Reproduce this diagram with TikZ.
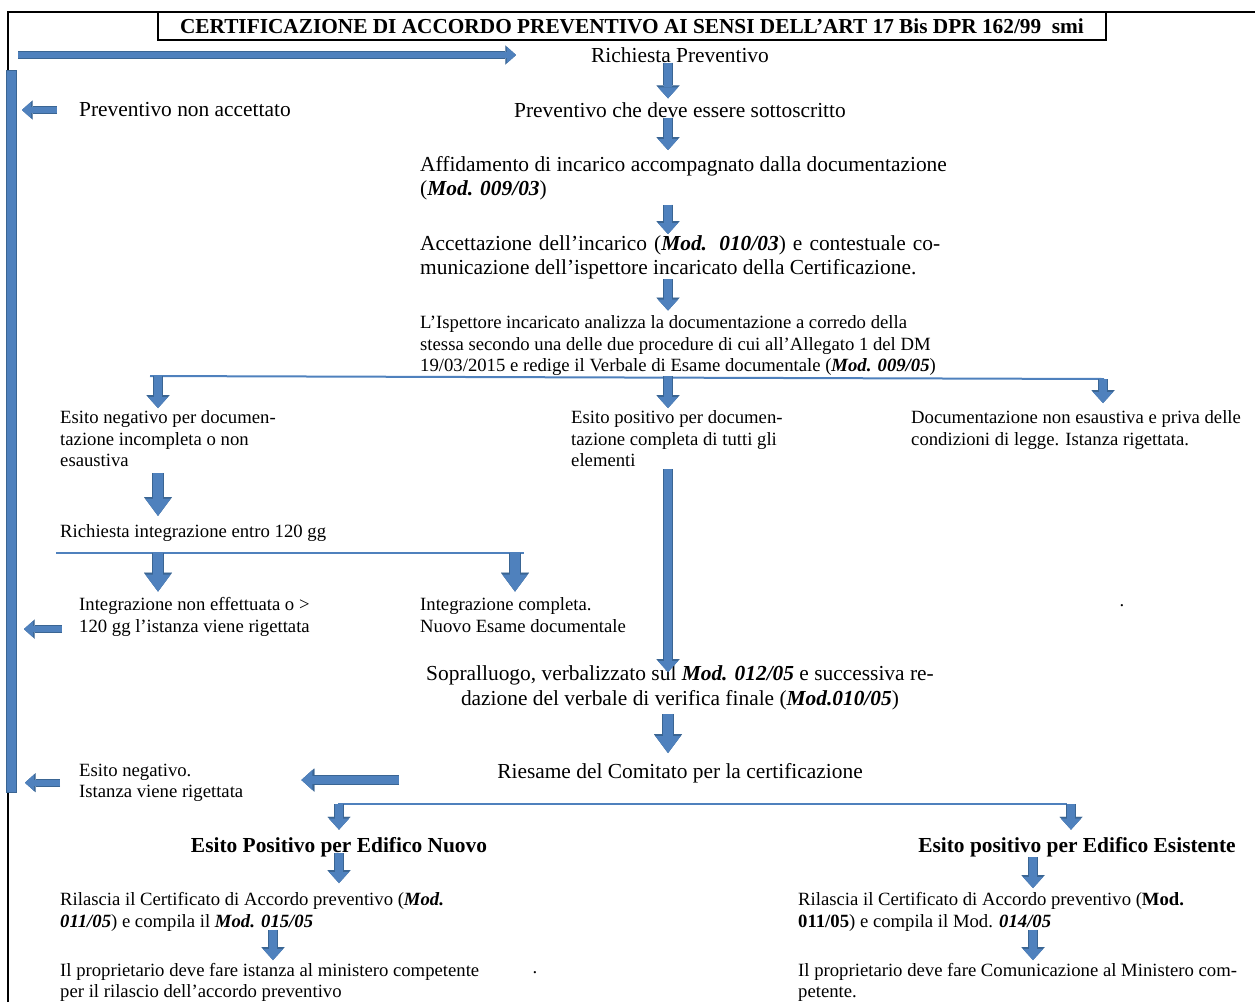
\documentclass[tikz,border=0pt]{standalone}
\usepackage{fontspec}
\setmainfont{Liberation Serif}
\usetikzlibrary{arrows.meta}
\definecolor{bfill}{HTML}{4F81BD}
\definecolor{bline}{HTML}{3A6593}
\newcommand\bim[1]{\textbf{\textit{#1}}}
\tikzset{
  big/.style={inner sep=0pt, font=\fontsize{21.4}{24.5}\selectfont},
  sml/.style={inner sep=0pt, font=\fontsize{18.7}{21.6}\selectfont, align=left, anchor=north west},
  arr/.style={draw=bfill, line width=8pt, -{Triangle[length=11pt,width=20pt,line width=0.01pt]},
    preaction={draw=bline, line width=9.6pt, -{Triangle[length=12.8pt,width=23pt,line width=0.01pt]}}},
  bigarr/.style={draw=bfill, line width=10pt, -{Triangle[length=17pt,width=25pt,line width=0.01pt]},
    preaction={draw=bline, line width=11.6pt, -{Triangle[length=18.8pt,width=28pt,line width=0.01pt]}}},
  sidearr/.style={draw=bfill, line width=6pt, -{Triangle[length=9pt,width=16pt,line width=0.01pt]},
    preaction={draw=bline, line width=7.6pt, -{Triangle[length=10.6pt,width=19pt,line width=0.01pt]}}},
  split/.style={draw=bfill, line width=2pt},
}
\begin{document}
\begin{tikzpicture}[x=1pt, y=-1pt]
  \useasboundingbox (0,0) rectangle (1255,1002);
  % frame
  \draw[line width=1.6pt] (8,1002) -- (8,12) -- (1255,12);
  \node[draw, line width=2.6pt, minimum width=948pt, minimum height=28pt, inner sep=0pt,
    font=\fontsize{21.3}{24}\selectfont\bfseries] (title) at (632,26)
    {CERTIFICAZIONE DI ACCORDO PREVENTIVO AI SENSI DELL’ART 17 Bis DPR 162/99\ \ smi};
  \node[draw=bline, fill=bfill, line width=0.8pt, minimum width=10pt, minimum height=722pt,
    inner sep=0pt] (bar) at (11,431) {};
  % columns
  \coordinate (ax) at (668,0);
  \coordinate (lx) at (158,0);
  \coordinate (mx) at (515,0);
  \coordinate (rx) at (1103,0);
  \coordinate (nx) at (339,0);
  \coordinate (kx) at (273,0);
  \coordinate (ex) at (1033,0);
  \coordinate (fx) at (1071,0);
  % texts
  \node[big] (ric) at (680,55) {Richiesta Preventivo};
  \node[big, anchor=west] (nonacc) at (79,110) {Preventivo non accettato};
  \node[big] (prev) at (680,110) {Preventivo che deve essere sottoscritto};
  \node[big, align=left, anchor=north west] (affid) at (420,156)
    {Affidamento di incarico accompagnato dalla documentazione\\(\bim{Mod. 009/03})};
  \node[big, text width=520pt, align=justify, anchor=north west] (accett) at (420,235)
    {Accettazione dell’incarico (\bim{Mod. 010/03}) e contestuale co-\linebreak
     municazione dell’ispettore incaricato della Certificazione.};
  \node[sml] (ispett) at (420,315.5)
    {L’Ispettore incaricato analizza la documentazione a corredo della\\
     stessa secondo una delle due procedure di cui all’Allegato 1 del DM\\
     19/03/2015 e redige il Verbale di Esame documentale (\bim{Mod. 009/05})};
  \node[sml] (esneg) at (60,410.5) {Esito negativo per documen-\\tazione incompleta o non\\esaustiva};
  \node[sml] (espos) at (571,410.5) {Esito positivo per documen-\\tazione completa di tutti gli\\elementi};
  \node[sml] (docnon) at (911,410.5) {Documentazione non esaustiva e priva delle\\condizioni di legge. Istanza rigettata.};
  \node[sml, anchor=west] (richint) at (60,533) {Richiesta integrazione entro 120 gg};
  \node[sml] (intnon) at (79,597.5) {Integrazione non effettuata o >\\120 gg l’istanza viene rigettata};
  \node[sml] (intcomp) at (420,597.5) {Integrazione completa.\\Nuovo Esame documentale};
  \node[sml, anchor=center] (dot1) at (1122,606) {.};
  \node[big, align=center, anchor=north] (sopr) at (680,665.5)
    {Sopralluogo, verbalizzato sul \bim{Mod. 012/05} e successiva re-\\
     dazione del verbale di verifica finale (\bim{Mod.010/05})};
  \node[big] (riesame) at (680,773) {Riesame del Comitato per la certificazione};
  \node[sml] (esneg2) at (79,763.5) {Esito negativo.\\Istanza viene rigettata};
  \node[big, font=\fontsize{21.4}{24.5}\selectfont\bfseries] (edn) at (339,847) {Esito Positivo per Edifico Nuovo};
  \node[big, font=\fontsize{21.4}{24.5}\selectfont\bfseries] (ede) at (1077,847) {Esito positivo per Edifico Esistente};
  \node[sml] (ril1) at (60,892.5)
    {Rilascia il Certificato di Accordo preventivo (\bim{Mod.}\\\bim{011/05}) e compila il \bim{Mod. 015/05}};
  \node[sml] (ril2) at (798,892.5)
    {Rilascia il Certificato di Accordo preventivo (\textbf{Mod.}\\\textbf{011/05}) e compila il Mod. \bim{014/05}};
  \node[sml, font=\fontsize{18.7}{21}\selectfont] (prop1) at (60,963.5)
    {Il proprietario deve fare istanza al ministero competente\\per il rilascio dell’accordo preventivo};
  \node[sml, font=\fontsize{18.7}{21}\selectfont] (prop2) at (798,963.5)
    {Il proprietario deve fare Comunicazione al Ministero com-\\petente.};
  \node[sml, anchor=center] (dot2) at (535,973) {.};
  % split lines
  \coordinate (s1w) at (150,376);
  \coordinate (s1e) at (1104,379);
  \coordinate (s2w) at (56,553);
  \coordinate (s2e) at (524,553);
  \coordinate (s3w) at (338,804);
  \coordinate (s3e) at (1067,804);
  \draw[split] (s1w) -- (s1e);
  \draw[split] (s2w) -- (s2e);
  \draw[split] (s3w) -- (s3e);
  % arrows
  \draw[sidearr, shorten <=1.6pt, shorten >=75pt] (ric.west -| bar.east) -- (ric.west);
  \draw[arr, shorten >=4pt] (ric.south -| ax) -- (prev.north -| ax);
  \draw[arr, shorten >=6pt] (prev.south -| ax) -- (affid.north -| ax);
  \draw[arr, shorten <=4pt, shorten >=1pt] (affid.south -| ax) -- (accett.north -| ax);
  \draw[arr, shorten >=5pt] (accett.south -| ax) -- (ispett.north -| ax);
  \draw[arr, shorten >=2.5pt] (lx |- s1w) -- (esneg.north -| lx);
  \draw[arr, shorten >=2.5pt] (ax |- s1w) -- (espos.north -| ax);
  \draw[arr, shorten >=7.5pt] (rx |- s1e) -- (docnon.north -| rx);
  \draw[bigarr, shorten <=5.5pt, shorten >=8.5pt] (esneg.south -| lx) -- (richint.north -| lx);
  \draw[bigarr, shorten >=6pt] (lx |- s2w) -- (intnon.north -| lx);
  \draw[bigarr, shorten >=6pt] (mx |- s2e) -- (intcomp.north -| mx);
  \draw[arr, shorten <=1.5pt, shorten >=-6.5pt] (espos.south -| ax) -- (sopr.north -| ax);
  \draw[bigarr, shorten <=4pt, shorten >=10pt] (sopr.south -| ax) -- (riesame.north -| ax);
  \draw[arr, shorten <=98pt, shorten >=58pt] ([yshift=-7pt]riesame.west) -- ([yshift=-7pt]riesame.west -| esneg2.east);
  \draw[sidearr, shorten <=22pt, shorten >=5.6pt] (nonacc.west) -- (nonacc.west -| bar.east);
  \draw[sidearr, shorten <=17pt, shorten >=7.6pt] ([yshift=-12pt]intnon.west) -- ([yshift=-12pt]intnon.west -| bar.east);
  \draw[sidearr, shorten <=19pt, shorten >=8.6pt] (esneg2.west) -- (esneg2.west -| bar.east);
  \draw[arr, shorten >=7.4pt] (nx |- s3w) -- (edn.north -| nx);
  \draw[arr, shorten >=7.4pt] (fx |- s3e) -- (ede.north -| fx);
  \draw[arr, shorten <=-3.6pt, shorten >=9.5pt] (edn.south -| nx) -- (ril1.north -| nx);
  \draw[arr, shorten >=4.5pt] (ede.south -| ex) -- (ril2.north -| ex);
  \draw[arr, shorten <=-2pt, shorten >=3.5pt] (ril1.south -| kx) -- (prop1.north -| kx);
  \draw[arr, shorten <=-2pt, shorten >=3.5pt] (ril2.south -| ex) -- (prop2.north -| ex);
\end{tikzpicture}
\end{document}
